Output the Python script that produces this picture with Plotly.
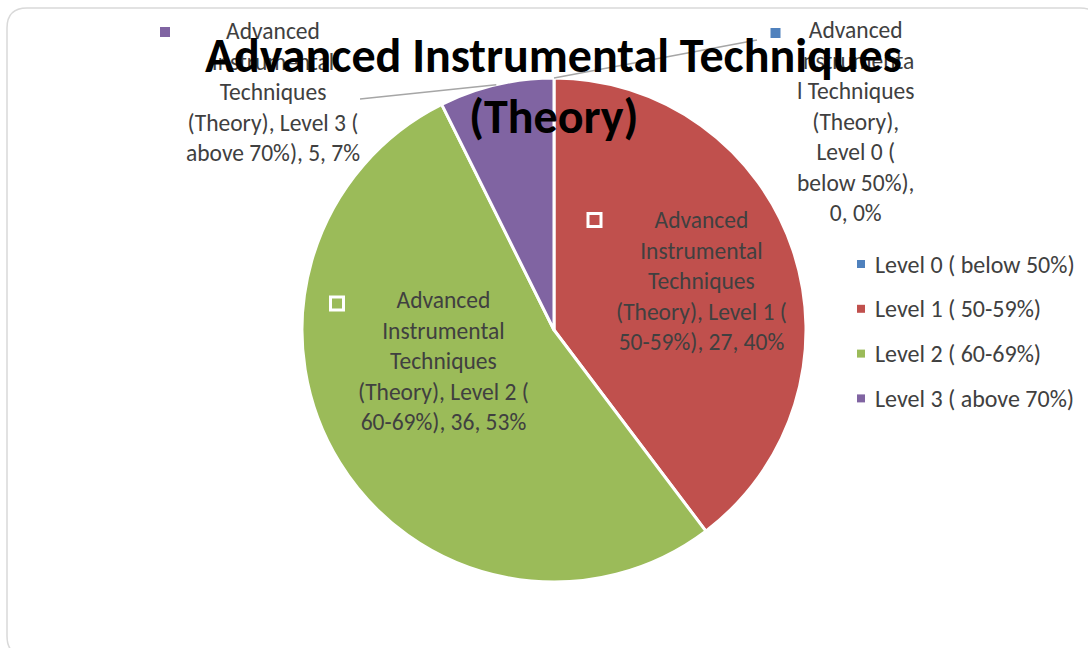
import math
import textwrap
import plotly.graph_objects as go

# ---- data ----
series_name = "Advanced Instrumental Techniques (Theory)"
categories = ["Level 0 ( below 50%)", "Level 1 ( 50-59%)", "Level 2 ( 60-69%)", "Level 3 ( above 70%)"]
counts = [0, 27, 36, 5]
colors = ["#4F81BD", "#C0504D", "#9BBB59", "#8064A2"]

W, H = 1088, 648
FONT = "Carlito, Lato, sans-serif"
TEXT_COLOR = "#404040"
LABEL_SIZE = 23.5
LEGEND_SIZE = 24
TITLE_SIZE = 48

# pie geometry in pixels
CX, CY, R = 554, 330, 252


def px(x):
    return x / W


def py(y):
    return 1 - y / H


total = sum(counts)
pcts = [round(v / total * 100) for v in counts]


def label_text(i):
    full = f"{series_name}, {categories[i]}, {counts[i]}, {pcts[i]}%"
    if counts[i] == 0:
        # narrow outside box: the word is broken mid-way
        lines = ["Advanced", "Instrumenta", "l Techniques", "(Theory),",
                 categories[i].split("( ")[0] + "(", categories[i].split("( ")[1] + ",",
                 f"{counts[i]}, {pcts[i]}%"]
    else:
        lines = textwrap.wrap(full, width=19)
    return "<br>".join(lines)


def mid_angle(i):
    start = sum(counts[:i]) / total * 360
    end = sum(counts[:i + 1]) / total * 360
    return (start + end) / 2


def edge_point(i):
    a = math.radians(mid_angle(i))
    return CX + R * math.sin(a), CY - R * math.cos(a)


fig = go.Figure()
fig.add_trace(go.Pie(
    labels=categories,
    values=counts,
    marker=dict(colors=colors, line=dict(color="white", width=3)),
    sort=False,
    direction="clockwise",
    rotation=0,
    textinfo="none",
    hoverinfo="label+value+percent",
    showlegend=False,
    domain=dict(x=[px(CX - R), px(CX + R)], y=[py(CY + R), py(CY - R)]),
))

shapes = []
annotations = []

# rounded chart-area border
x0, y0, x1, y1, rr = 7, 8, 1100, 656, 20
path = (f"M {px(x0 + rr)},{py(y0)} L {px(x1 - rr)},{py(y0)} "
        f"Q {px(x1)},{py(y0)} {px(x1)},{py(y0 + rr)} "
        f"L {px(x1)},{py(y1 - rr)} Q {px(x1)},{py(y1)} {px(x1 - rr)},{py(y1)} "
        f"L {px(x0 + rr)},{py(y1)} Q {px(x0)},{py(y1)} {px(x0)},{py(y1 - rr)} "
        f"L {px(x0)},{py(y0 + rr)} Q {px(x0)},{py(y0)} {px(x0 + rr)},{py(y0)} Z")
shapes.append(dict(type="path", path=path, xref="paper", yref="paper",
                   line=dict(color="#D9D9D9", width=1.5), layer="below"))

# data label placement (pixel centre of the text block), key square centre, leader start
label_pos = {
    0: dict(cx=855, cy=121.5, key=(775.5, 33), leader=(757, 40)),
    1: dict(cx=701, cy=280.5, key=(594.5, 220)),
    2: dict(cx=443, cy=361, key=(337, 303.5)),
    3: dict(cx=273, cy=92, key=(165, 32), leader=(360, 99)),
}

for i, p in label_pos.items():
    annotations.append(dict(
        x=px(p["cx"]), y=py(p["cy"]), xref="paper", yref="paper",
        text=label_text(i), showarrow=False, align="center",
        xanchor="center", yanchor="middle",
        font=dict(family=FONT, size=LABEL_SIZE, color=TEXT_COLOR),
    ))
    kx, ky = p["key"]
    if "leader" in p:
        s = 5
        shapes.append(dict(type="rect", xref="paper", yref="paper",
                           x0=px(kx - s), x1=px(kx + s), y0=py(ky + s), y1=py(ky - s),
                           fillcolor=colors[i], line=dict(width=0)))
        ex, ey = edge_point(i)
        lx, ly = p["leader"]
        shapes.append(dict(type="line", xref="paper", yref="paper",
                           x0=px(lx), y0=py(ly), x1=px(ex), y1=py(ey),
                           line=dict(color="#A6A6A6", width=1.5)))
    else:
        s = 6.5
        shapes.append(dict(type="rect", xref="paper", yref="paper",
                           x0=px(kx - s), x1=px(kx + s), y0=py(ky + s), y1=py(ky - s),
                           fillcolor="rgba(0,0,0,0)", line=dict(color="white", width=3)))

# legend
for i, cat in enumerate(categories):
    ly = 264 + i * 44.8
    s = 4
    shapes.append(dict(type="rect", xref="paper", yref="paper",
                       x0=px(861 - s), x1=px(861 + s), y0=py(ly + s), y1=py(ly - s),
                       fillcolor=colors[i], line=dict(width=0)))
    annotations.append(dict(
        x=px(873), y=py(ly), xref="paper", yref="paper", text=cat,
        showarrow=False, xanchor="left", yanchor="middle",
        font=dict(family=FONT, size=LEGEND_SIZE, color=TEXT_COLOR),
    ))

# chart title (two lines)
title_words = series_name.rsplit(" ", 1)
annotations.append(dict(x=px(553), y=py(56), xref="paper", yref="paper",
                        text=f"<b>{title_words[0]}</b>", showarrow=False,
                        xanchor="center", yanchor="middle",
                        font=dict(family=FONT, size=TITLE_SIZE, color="black")))
annotations.append(dict(x=px(553), y=py(116), xref="paper", yref="paper",
                        text=f"<b>{title_words[1]}</b>", showarrow=False,
                        xanchor="center", yanchor="middle",
                        font=dict(family=FONT, size=TITLE_SIZE, color="black")))

fig.update_layout(
    width=W, height=H, autosize=False,
    margin=dict(l=0, r=0, t=0, b=0),
    paper_bgcolor="white", plot_bgcolor="white",
    shapes=shapes, annotations=annotations,
)

fig.write_html("out.html")
